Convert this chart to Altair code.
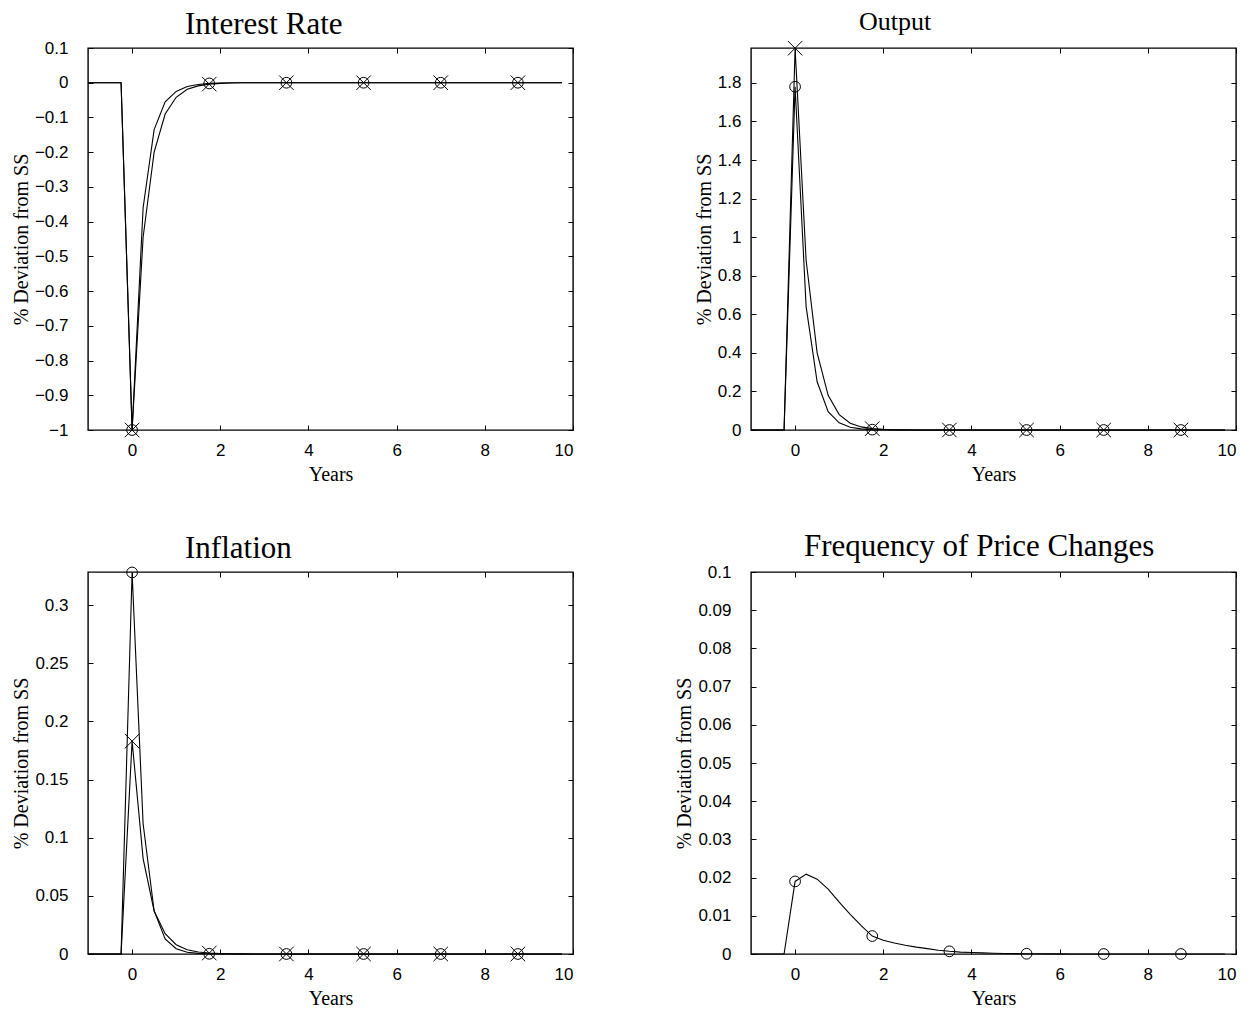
import altair as alt
import pandas as pd

# quarterly time grid (years), from -1 to 9.75
quarters = list(range(-4, 40))
years = [q / 4 for q in quarters]

# ---- series values (one entry per quarter, 44 each) ----
rate_circle = [0, 0, 0, 0,
               -1.0, -0.36, -0.135, -0.055,
               -0.025, -0.011, -0.005, -0.002,
               -0.001, 0, 0, 0,
               0, 0, 0, 0, 0, 0, 0, 0, 0, 0, 0, 0,
               0, 0, 0, 0, 0, 0, 0, 0, 0, 0, 0, 0, 0, 0, 0, 0]
rate_cross = [0, 0, 0, 0,
              -1.0, -0.445, -0.20, -0.09,
              -0.042, -0.019, -0.009, -0.004,
              -0.002, -0.001, 0, 0,
              0, 0, 0, 0, 0, 0, 0, 0, 0, 0, 0, 0,
              0, 0, 0, 0, 0, 0, 0, 0, 0, 0, 0, 0, 0, 0, 0, 0]
output_circle = [0, 0, 0, 0,
                 1.78, 0.64, 0.25, 0.095,
                 0.037, 0.014, 0.006, 0.002,
                 0.001, 0, 0, 0,
                 0, 0, 0, 0, 0, 0, 0, 0, 0, 0, 0, 0,
                 0, 0, 0, 0, 0, 0, 0, 0, 0, 0, 0, 0, 0, 0, 0, 0]
output_cross = [0, 0, 0, 0,
                1.98, 0.88, 0.40, 0.18,
                0.08, 0.035, 0.016, 0.007,
                0.003, 0.0015, 0.0007, 0.0003,
                0, 0, 0, 0, 0, 0, 0, 0, 0, 0, 0, 0,
                0, 0, 0, 0, 0, 0, 0, 0, 0, 0, 0, 0, 0, 0, 0, 0]
infl_circle = [0, 0, 0, 0,
               0.328, 0.112, 0.037, 0.013,
               0.0045, 0.0015, 0.0005, 0.0002,
               0.0001, 0, 0, 0,
               0, 0, 0, 0, 0, 0, 0, 0, 0, 0, 0, 0,
               0, 0, 0, 0, 0, 0, 0, 0, 0, 0, 0, 0, 0, 0, 0, 0]
infl_cross = [0, 0, 0, 0,
              0.183, 0.082, 0.037, 0.0175,
              0.008, 0.0037, 0.0017, 0.0008,
              0.0004, 0.0002, 0.0001, 0,
              0, 0, 0, 0, 0, 0, 0, 0, 0, 0, 0, 0,
              0, 0, 0, 0, 0, 0, 0, 0, 0, 0, 0, 0, 0, 0, 0, 0]
freq_circle = [0, 0, 0, 0,
               0.0190, 0.0209, 0.0196, 0.0170,
               0.0136, 0.0104, 0.0074, 0.0047,
               0.0036, 0.0029, 0.0023, 0.0018,
               0.0014, 0.0010, 0.0007, 0.0005,
               0.0004, 0.0003, 0.0002, 0.00015,
               0.0001, 0.00007, 0.00005, 0.00003,
               0.00002, 0, 0, 0, 0, 0, 0, 0, 0, 0, 0, 0, 0, 0, 0, 0]

x_ticks = [0, 2, 4, 6, 8, 10]
rate_ticks = [-1, -0.9, -0.8, -0.7, -0.6, -0.5, -0.4, -0.3, -0.2, -0.1, 0, 0.1]
output_ticks = [0, 0.2, 0.4, 0.6, 0.8, 1, 1.2, 1.4, 1.6, 1.8]
infl_ticks = [0, 0.05, 0.1, 0.15, 0.2, 0.25, 0.3]
freq_ticks = [0, 0.01, 0.02, 0.03, 0.04, 0.05, 0.06, 0.07, 0.08, 0.09, 0.1]

titles = ["Interest Rate", "Output", "Inflation", "Frequency of Price Changes"]
y_title = "% Deviation from SS"
x_title = "Years"

SERIF = "Liberation Serif"
SANS = "Liberation Sans"
W, H = 485, 382


def make_df(series):
    rows = []
    for name, vals in series.items():
        for q, t, v in zip(quarters, years, vals):
            rows.append({"q": q, "t": t, "value": v, "series": name})
    return pd.DataFrame(rows)


def panel(series, title, title_dx, title_size, title_offset, ydomain, yticks,
          ylab_pad=20):
    df = make_df(series)
    xs = alt.Scale(domain=[-1, 10], nice=False, zero=False)
    ys = alt.Scale(domain=ydomain, nice=False, zero=False)
    common = dict(tickSize=5, offset=-5, domain=False, grid=False,
                  tickColor="black", tickWidth=1, labelColor="black",
                  labelFont=SANS, labelFontSize=17, format="~r")
    xb = alt.Axis(orient="bottom", values=x_ticks, title=x_title,
                  labelPadding=12, titleFont=SERIF, titleFontSize=20,
                  titleFontWeight="normal", titleColor="black",
                  titlePadding=6, **common)
    yl = alt.Axis(orient="left", values=yticks, title=y_title,
                  labelPadding=ylab_pad, titleFont=SERIF, titleFontSize=20,
                  titleFontWeight="normal", titleColor="black",
                  titlePadding=3, **common)
    xt = alt.Axis(orient="top", values=x_ticks, labels=False, title=None,
                  **common)
    yr = alt.Axis(orient="right", values=yticks, labels=False, title=None,
                  **common)

    lines = alt.Chart(df).mark_line(color="black", strokeWidth=1.1).encode(
        x=alt.X("t:Q", scale=xs, axis=xb),
        y=alt.Y("value:Q", scale=ys, axis=yl),
        detail="series:N",
    )
    box = alt.Chart(df).mark_point(opacity=0, size=1).encode(
        x=alt.X("t:Q", scale=xs, axis=xt),
        y=alt.Y("value:Q", scale=ys, axis=yr),
    )
    layers = [lines, box]
    if "circle" in series:
        layers.append(
            alt.Chart(df).transform_filter(
                "datum.series == 'circle' && datum.q >= 0 && datum.q % 7 == 0"
            ).mark_point(shape="circle", size=115, filled=False,
                         color="black", strokeWidth=1, opacity=1).encode(
                x=alt.X("t:Q", scale=xs, axis=None),
                y=alt.Y("value:Q", scale=ys, axis=None),
            )
        )
    if "cross" in series:
        layers.append(
            alt.Chart(df).transform_filter(
                "datum.series == 'cross' && datum.q >= 0 && datum.q % 7 == 0"
            ).mark_point(shape="M-1,-1L1,1M-1,1L1,-1", size=210, filled=False,
                         color="black", strokeWidth=1, opacity=1).encode(
                x=alt.X("t:Q", scale=xs, axis=None),
                y=alt.Y("value:Q", scale=ys, axis=None),
            )
        )
    return alt.layer(*layers).resolve_axis(x="independent", y="independent").properties(
        width=W, height=H,
        title=alt.TitleParams(title, font=SERIF, fontSize=title_size,
                              fontWeight="normal", color="black",
                              anchor="start", frame="group", dx=title_dx,
                              offset=title_offset, baseline="alphabetic"),
    )


p1 = panel({"circle": rate_circle, "cross": rate_cross}, titles[0], 97, 31, -26,
           [-1, 0.1], rate_ticks)
p2 = panel({"circle": output_circle, "cross": output_cross}, titles[1], 108, 26, -17,
           [0, 1.981], output_ticks, ylab_pad=10)
p3 = panel({"circle": infl_circle, "cross": infl_cross}, titles[2], 97, 31, -24,
           [0, 0.3284], infl_ticks)
p4 = panel({"circle": freq_circle}, titles[3], 53, 31, -24,
           [0, 0.1], freq_ticks)

chart = alt.concat(p1, p2, p3, p4, columns=2, spacing={"row": 45, "column": 99}).properties(
    padding={"left": 2, "top": 0, "right": 0, "bottom": 0}
).configure(background="white", view=alt.ViewConfig(stroke="black", strokeWidth=1.4))

chart.save("out.html", embed_options={"renderer": "svg", "actions": False})
